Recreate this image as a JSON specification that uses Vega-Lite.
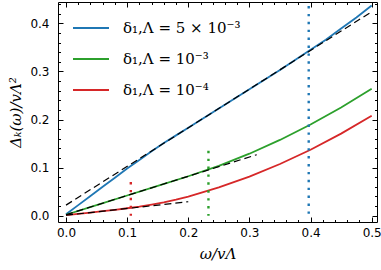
{
  "$schema": "https://vega.github.io/schema/vega-lite/v6.json",
  "width": 319,
  "height": 220,
  "autosize": {"type": "none"},
  "padding": {"left": 58, "top": 2, "right": 4, "bottom": 48},
  "datasets": {
    "curves": [
      {"series": "δ₁,Λ = 5 × 10⁻³", "x": 0.0, "y": 0.003},
      {"series": "δ₁,Λ = 5 × 10⁻³", "x": 0.02, "y": 0.022},
      {"series": "δ₁,Λ = 5 × 10⁻³", "x": 0.04, "y": 0.041},
      {"series": "δ₁,Λ = 5 × 10⁻³", "x": 0.06, "y": 0.060},
      {"series": "δ₁,Λ = 5 × 10⁻³", "x": 0.08, "y": 0.079},
      {"series": "δ₁,Λ = 5 × 10⁻³", "x": 0.10, "y": 0.098},
      {"series": "δ₁,Λ = 5 × 10⁻³", "x": 0.12, "y": 0.116},
      {"series": "δ₁,Λ = 5 × 10⁻³", "x": 0.14, "y": 0.134},
      {"series": "δ₁,Λ = 5 × 10⁻³", "x": 0.16, "y": 0.151},
      {"series": "δ₁,Λ = 5 × 10⁻³", "x": 0.18, "y": 0.167},
      {"series": "δ₁,Λ = 5 × 10⁻³", "x": 0.20, "y": 0.183},
      {"series": "δ₁,Λ = 5 × 10⁻³", "x": 0.25, "y": 0.223},
      {"series": "δ₁,Λ = 5 × 10⁻³", "x": 0.30, "y": 0.263},
      {"series": "δ₁,Λ = 5 × 10⁻³", "x": 0.35, "y": 0.303},
      {"series": "δ₁,Λ = 5 × 10⁻³", "x": 0.40, "y": 0.345},
      {"series": "δ₁,Λ = 5 × 10⁻³", "x": 0.425, "y": 0.366},
      {"series": "δ₁,Λ = 5 × 10⁻³", "x": 0.45, "y": 0.389},
      {"series": "δ₁,Λ = 5 × 10⁻³", "x": 0.475, "y": 0.412},
      {"series": "δ₁,Λ = 5 × 10⁻³", "x": 0.50, "y": 0.437},
      {"series": "δ₁,Λ = 10⁻³", "x": 0.0, "y": 0.002},
      {"series": "δ₁,Λ = 10⁻³", "x": 0.05, "y": 0.022},
      {"series": "δ₁,Λ = 10⁻³", "x": 0.10, "y": 0.042},
      {"series": "δ₁,Λ = 10⁻³", "x": 0.15, "y": 0.062},
      {"series": "δ₁,Λ = 10⁻³", "x": 0.20, "y": 0.082},
      {"series": "δ₁,Λ = 10⁻³", "x": 0.25, "y": 0.1037},
      {"series": "δ₁,Λ = 10⁻³", "x": 0.30, "y": 0.1289},
      {"series": "δ₁,Λ = 10⁻³", "x": 0.35, "y": 0.1575},
      {"series": "δ₁,Λ = 10⁻³", "x": 0.40, "y": 0.1896},
      {"series": "δ₁,Λ = 10⁻³", "x": 0.45, "y": 0.2251},
      {"series": "δ₁,Λ = 10⁻³", "x": 0.50, "y": 0.2641},
      {"series": "δ₁,Λ = 10⁻⁴", "x": 0.0, "y": 0.001},
      {"series": "δ₁,Λ = 10⁻⁴", "x": 0.02, "y": 0.0038},
      {"series": "δ₁,Λ = 10⁻⁴", "x": 0.04, "y": 0.0066},
      {"series": "δ₁,Λ = 10⁻⁴", "x": 0.06, "y": 0.0094},
      {"series": "δ₁,Λ = 10⁻⁴", "x": 0.08, "y": 0.0123},
      {"series": "δ₁,Λ = 10⁻⁴", "x": 0.10, "y": 0.0155},
      {"series": "δ₁,Λ = 10⁻⁴", "x": 0.12, "y": 0.019},
      {"series": "δ₁,Λ = 10⁻⁴", "x": 0.14, "y": 0.0232},
      {"series": "δ₁,Λ = 10⁻⁴", "x": 0.16, "y": 0.0278},
      {"series": "δ₁,Λ = 10⁻⁴", "x": 0.18, "y": 0.0333},
      {"series": "δ₁,Λ = 10⁻⁴", "x": 0.20, "y": 0.0395},
      {"series": "δ₁,Λ = 10⁻⁴", "x": 0.25, "y": 0.0587},
      {"series": "δ₁,Λ = 10⁻⁴", "x": 0.30, "y": 0.0812},
      {"series": "δ₁,Λ = 10⁻⁴", "x": 0.35, "y": 0.1074},
      {"series": "δ₁,Λ = 10⁻⁴", "x": 0.40, "y": 0.1372},
      {"series": "δ₁,Λ = 10⁻⁴", "x": 0.45, "y": 0.1706},
      {"series": "δ₁,Λ = 10⁻⁴", "x": 0.50, "y": 0.2077}
    ],
    "approx": [
      {"series": "δ₁,Λ = 5 × 10⁻³", "x": 0.0, "y": 0.022},
      {"series": "δ₁,Λ = 5 × 10⁻³", "x": 0.5, "y": 0.424},
      {"series": "δ₁,Λ = 10⁻³", "x": 0.0, "y": 0.002},
      {"series": "δ₁,Λ = 10⁻³", "x": 0.312, "y": 0.1268},
      {"series": "δ₁,Λ = 10⁻⁴", "x": 0.0, "y": 0.001},
      {"series": "δ₁,Λ = 10⁻⁴", "x": 0.2, "y": 0.029}
    ],
    "markers": [
      {"series": "δ₁,Λ = 5 × 10⁻³", "x": 0.397, "y": 0.0, "y2": 0.436},
      {"series": "δ₁,Λ = 10⁻³", "x": 0.233, "y": 0.0, "y2": 0.135},
      {"series": "δ₁,Λ = 10⁻⁴", "x": 0.106, "y": 0.0, "y2": 0.07}
    ]
  },
  "layer": [
    {
      "data": {"name": "curves"},
      "mark": {"type": "line", "strokeWidth": 1.8, "clip": true},
      "encoding": {
        "x": {
          "field": "x", "type": "quantitative",
          "scale": {"domain": [-0.0131, 0.5087], "nice": false, "zero": false},
          "axis": {
            "orient": "bottom", "values": [0, 0.1, 0.2, 0.3, 0.4, 0.5], "format": ".1f",
            "tickSize": -5, "labelPadding": 10, "domain": true,
            "title": "ω/vΛ", "titlePadding": 8
          }
        },
        "y": {
          "field": "y", "type": "quantitative",
          "scale": {"domain": [-0.0131, 0.4443], "nice": false, "zero": false},
          "axis": {
            "orient": "left", "values": [0, 0.1, 0.2, 0.3, 0.4], "format": ".1f",
            "tickSize": -5, "labelPadding": 14, "domain": true,
            "title": "Δₖ(ω)/vΛ²", "titlePadding": 6
          }
        },
        "color": {
          "field": "series", "type": "nominal",
          "scale": {
            "domain": ["δ₁,Λ = 5 × 10⁻³", "δ₁,Λ = 10⁻³", "δ₁,Λ = 10⁻⁴"],
            "range": ["#1f77b4", "#2ca02c", "#d62728"]
          },
          "legend": {
            "orient": "none", "legendX": 14, "legendY": 7, "title": null,
            "symbolType": "stroke", "symbolSize": 1296, "symbolStrokeWidth": 2,
            "labelFont": "DejaVu Serif", "labelFontSize": 15, "labelColor": "black",
            "labelOffset": 13, "rowPadding": 4, "padding": 0
          }
        }
      }
    },
    {
      "data": {"name": "approx"},
      "transform": [{"filter": "datum.series === 'δ₁,Λ = 5 × 10⁻³'"}],
      "mark": {"type": "line", "color": "black", "strokeWidth": 1.2, "strokeDash": [7, 4], "clip": true},
      "encoding": {
        "x": {
          "field": "x", "type": "quantitative",
          "axis": {
            "orient": "bottom", "values": [0.02, 0.04, 0.06, 0.08, 0.12, 0.14, 0.16, 0.18, 0.22, 0.24, 0.26, 0.28, 0.32, 0.34, 0.36, 0.38, 0.42, 0.44, 0.46, 0.48],
            "tickSize": -2.5, "labels": false, "domain": false, "title": null
          }
        },
        "y": {
          "field": "y", "type": "quantitative",
          "axis": {
            "orient": "left", "values": [0.02, 0.04, 0.06, 0.08, 0.12, 0.14, 0.16, 0.18, 0.22, 0.24, 0.26, 0.28, 0.32, 0.34, 0.36, 0.38, 0.42, 0.44],
            "tickSize": -2.5, "labels": false, "domain": false, "title": null
          }
        },
        "detail": {"field": "series"}
      }
    },
    {
      "data": {"name": "approx"},
      "transform": [{"filter": "datum.series !== 'δ₁,Λ = 5 × 10⁻³'"}],
      "mark": {"type": "line", "color": "black", "strokeWidth": 1.2, "strokeDash": [7, 4], "clip": true},
      "encoding": {
        "x": {
          "field": "x", "type": "quantitative",
          "axis": {
            "orient": "top", "values": [0.02, 0.04, 0.06, 0.08, 0.12, 0.14, 0.16, 0.18, 0.22, 0.24, 0.26, 0.28, 0.32, 0.34, 0.36, 0.38, 0.42, 0.44, 0.46, 0.48],
            "tickSize": -2.5, "labels": false, "domain": false, "title": null
          }
        },
        "y": {
          "field": "y", "type": "quantitative",
          "axis": {
            "orient": "right", "values": [0.02, 0.04, 0.06, 0.08, 0.12, 0.14, 0.16, 0.18, 0.22, 0.24, 0.26, 0.28, 0.32, 0.34, 0.36, 0.38, 0.42, 0.44],
            "tickSize": -2.5, "labels": false, "domain": false, "title": null
          }
        },
        "detail": {"field": "series"}
      }
    },
    {
      "data": {"name": "markers"},
      "mark": {"type": "rule", "strokeWidth": 2.4, "strokeDash": [2.4, 5.5], "clip": true},
      "encoding": {
        "x": {
          "field": "x", "type": "quantitative",
          "axis": {
            "orient": "top", "values": [0, 0.1, 0.2, 0.3, 0.4, 0.5],
            "tickSize": -5, "labels": false, "domain": true, "title": null
          }
        },
        "y": {
          "field": "y2", "type": "quantitative",
          "axis": {
            "orient": "right", "values": [0, 0.1, 0.2, 0.3, 0.4],
            "tickSize": -5, "labels": false, "domain": true, "title": null
          }
        },
        "y2": {"field": "y"},
        "color": {"field": "series", "type": "nominal", "legend": null}
      }
    }
  ],
  "resolve": {"axis": {"x": "independent", "y": "independent"}},
  "config": {
    "view": {"stroke": null},
    "axis": {
      "grid": false,
      "domainColor": "black", "domainWidth": 1,
      "tickColor": "black", "tickWidth": 1,
      "labelFont": "DejaVu Sans", "labelFontSize": 12, "labelColor": "black",
      "titleFont": "DejaVu Serif", "titleFontSize": 15, "titleFontWeight": "normal",
      "titleFontStyle": "italic", "titleColor": "black"
    }
  }
}
